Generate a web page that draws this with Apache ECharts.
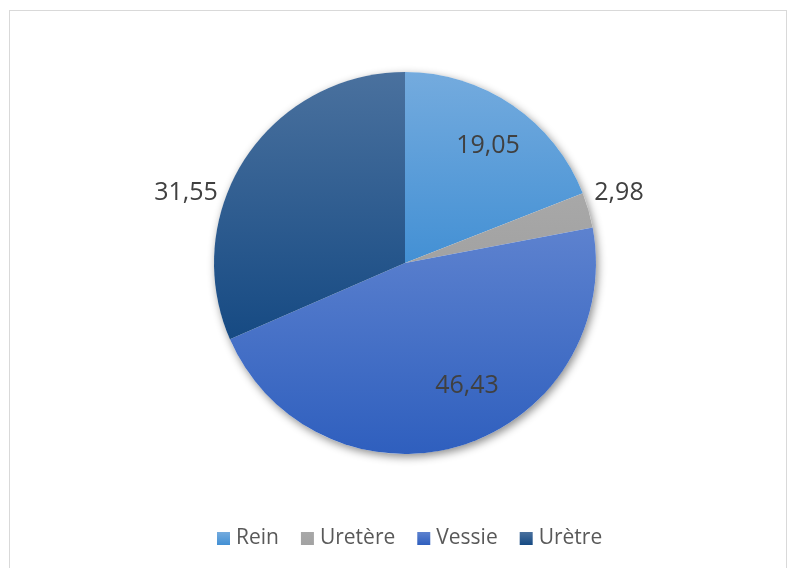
<!DOCTYPE html>
<html>
<head>
<meta charset="utf-8">
<script src="https://cdn.jsdelivr.net/npm/echarts@6/dist/echarts.min.js"></script>
<style>
  html, body { margin: 0; padding: 0; background: #fff; }
  #frame { position: absolute; left: 9px; top: 10px; width: 778px; height: 570px;
           border: 1.5px solid #d9d9d9; box-sizing: border-box; }
  #chart { position: absolute; left: 0; top: 0; width: 787px; height: 568px; }
</style>
</head>
<body>
<div id="frame"></div>
<div id="chart"></div>
<script>
// data
const categories = ['Rein', 'Uretère', 'Vessie', 'Urètre']
const values = [19.05, 2.98, 46.43, 31.55]

// slice colours (top -> bottom gradient)
const colTop = ['#74abde', '#a8a8a8', '#5d82cf', '#4a719e']
const colBot = ['#4390d4', '#a2a2a2', '#2f5fbe', '#164a83']
// where Excel put each value label (text centre)
const labelPos = [[488, 146], [619, 193], [467, 386], [186, 193]]

const chart = echarts.init(document.getElementById('chart'))

const grad = (i) => new echarts.graphic.LinearGradient(0, 0, 0, 1, [
  { offset: 0, color: colTop[i] },
  { offset: 1, color: colBot[i] }
])

const pieData = categories.map((c, i) => ({
  name: c,
  value: values[i],
  itemStyle: { color: grad(i) }
}))

const opt = {
  animation: false,
  legend: {
    data: categories,
    left: 212,
    top: 523,
    itemWidth: 13,
    itemHeight: 13,
    itemGap: 22,
    icon: 'rect',
    textStyle: { fontFamily: 'Open Sans', fontSize: 21, color: '#595959', padding: [0, 0, 0, 1] }
  },
  series: [
    {
      // shadow under the pie
      type: 'pie',
      silent: true,
      center: [405, 263],
      radius: 191,
      label: { show: false },
      labelLine: { show: false },
      data: [{ name: '_shadow', value: 1 }],
      itemStyle: {
        color: '#fff',
        shadowBlur: 9,
        shadowOffsetX: 2,
        shadowOffsetY: 3,
        shadowColor: 'rgba(0,0,0,0.45)'
      },
      z: 1
    },
    {
      type: 'pie',
      center: [405, 263],
      radius: 191,
      startAngle: 90,
      clockwise: true,
      z: 2,
      itemStyle: { borderWidth: 0 },
      label: {
        show: true,
        position: 'inside',
        fontFamily: 'Open Sans',
        fontSize: 25,
        color: '#404040',
        formatter: (p) => String(p.value).replace('.', ',')
      },
      labelLine: { show: false },
      labelLayout: (p) => ({
        x: labelPos[p.dataIndex][0],
        y: labelPos[p.dataIndex][1],
        align: 'center',
        verticalAlign: 'middle'
      }),
      emphasis: { disabled: true },
      data: pieData
    }
  ]
}

chart.setOption(opt)
</script>
</body>
</html>
